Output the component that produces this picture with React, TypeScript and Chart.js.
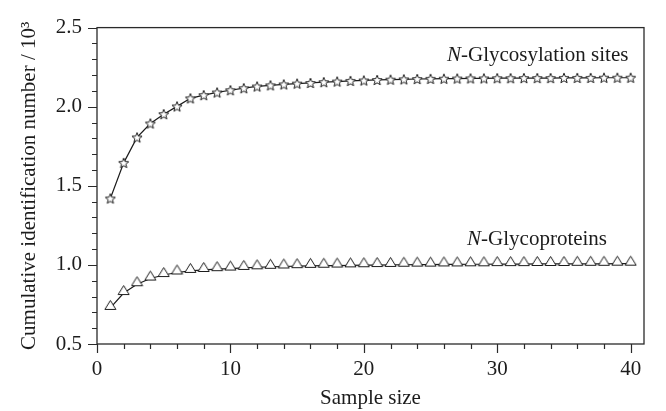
import React, { useEffect, useRef } from "react";
import { Chart, registerables } from "chart.js";

Chart.register(...registerables);

const sampleSizes = [
  1, 2, 3, 4, 5, 6, 7, 8, 9, 10, 11, 12, 13, 14, 15, 16, 17, 18, 19, 20,
  21, 22, 23, 24, 25, 26, 27, 28, 29, 30, 31, 32, 33, 34, 35, 36, 37, 38, 39, 40,
];

const glycositeValues = [
  1.42, 1.645, 1.806, 1.894, 1.953, 2.002, 2.053, 2.073, 2.09, 2.104,
  2.117, 2.128, 2.135, 2.141, 2.146, 2.15, 2.155, 2.159, 2.163, 2.166,
  2.169, 2.171, 2.173, 2.175, 2.176, 2.177, 2.178, 2.179, 2.179, 2.18,
  2.18, 2.181, 2.181, 2.181, 2.182, 2.182, 2.182, 2.183, 2.183, 2.183,
];

const glycoproteinValues = [
  0.728, 0.822, 0.878, 0.914, 0.936, 0.952, 0.962, 0.968, 0.973, 0.977,
  0.981, 0.985, 0.988, 0.99, 0.992, 0.994, 0.995, 0.996, 0.997, 0.998,
  0.999, 1.0, 1.001, 1.002, 1.002, 1.003, 1.003, 1.004, 1.004, 1.005,
  1.005, 1.005, 1.006, 1.006, 1.006, 1.007, 1.007, 1.007, 1.008, 1.008,
];

const xTickValues = [0, 10, 20, 30, 40];
const yTickValues = [0.5, 1.0, 1.5, 2.0, 2.5];
const xMinorTicks = [2, 4, 6, 8, 12, 14, 16, 18, 22, 24, 26, 28, 32, 34, 36, 38];
const yMinorTicks = [
  0.6, 0.7, 0.8, 0.9, 1.1, 1.2, 1.3, 1.4, 1.6, 1.7, 1.8, 1.9, 2.1, 2.2, 2.3, 2.4,
];

const seriesNames = ["Glycosylation sites", "Glycoproteins"];
const xTitle = "Sample size";
const yTitle = "Cumulative identification number / 10³";

const FONT = "'Liberation Serif', 'Times New Roman', serif";
const FS = 21;
const INK = "#1c1c1c";

function makeStar(): HTMLCanvasElement {
  const c = document.createElement("canvas");
  const s = 14;
  c.width = s;
  c.height = s;
  const ctx = c.getContext("2d")!;
  const cx = s / 2;
  const cy = s / 2 + 0.5;
  const ro = 5.3;
  const ri = 2.3;
  ctx.beginPath();
  for (let i = 0; i < 10; i++) {
    const a = -Math.PI / 2 + (i * Math.PI) / 5;
    const r = i % 2 === 0 ? ro : ri;
    const px = cx + r * Math.cos(a);
    const py = cy + r * Math.sin(a);
    if (i === 0) ctx.moveTo(px, py);
    else ctx.lineTo(px, py);
  }
  ctx.closePath();
  ctx.fillStyle = "#ffffff";
  ctx.fill();
  ctx.strokeStyle = INK;
  ctx.lineWidth = 1;
  ctx.stroke();
  return c;
}

function makeTriangle(): HTMLCanvasElement {
  const c = document.createElement("canvas");
  const w = 13;
  const h = 20;
  c.width = w;
  c.height = h;
  const ctx = c.getContext("2d")!;
  ctx.beginPath();
  ctx.moveTo(w / 2, 2.5);
  ctx.lineTo(w - 1, 11.5);
  ctx.lineTo(1, 11.5);
  ctx.closePath();
  ctx.fillStyle = "#ffffff";
  ctx.fill();
  ctx.strokeStyle = INK;
  ctx.lineWidth = 1;
  ctx.stroke();
  return c;
}

const framePlugin = {
  id: "frameTicks",
  afterDraw(chart: any) {
    const { ctx, chartArea: a, scales } = chart;
    const xs = scales.x;
    const ys = scales.y;
    ctx.save();
    ctx.strokeStyle = "#2a2a2a";
    ctx.lineWidth = 1.3;
    ctx.strokeRect(a.left, a.top, a.right - a.left, a.bottom - a.top);
    ctx.lineWidth = 1.2;
    ctx.beginPath();
    for (const v of xTickValues) {
      const px = Math.round(xs.getPixelForValue(v)) + 0.5;
      ctx.moveTo(px, a.bottom);
      ctx.lineTo(px, a.bottom + 9);
    }
    for (const v of xMinorTicks) {
      const px = Math.round(xs.getPixelForValue(v)) + 0.5;
      ctx.moveTo(px, a.bottom);
      ctx.lineTo(px, a.bottom + 5);
    }
    for (const v of yTickValues) {
      const py = Math.round(ys.getPixelForValue(v)) + 0.5;
      ctx.moveTo(a.left, py);
      ctx.lineTo(a.left - 9, py);
    }
    for (const v of yMinorTicks) {
      const py = Math.round(ys.getPixelForValue(v)) + 0.5;
      ctx.moveTo(a.left, py);
      ctx.lineTo(a.left - 5, py);
    }
    ctx.stroke();
    ctx.restore();
  },
  afterDatasetsDraw(chart: any) {
    const { ctx, scales } = chart;
    const xs = scales.x;
    const ys = scales.y;
    const labels = [
      { name: seriesNames[0], x: 39.83, y: 2.325 },
      { name: seriesNames[1], x: 38.23, y: 1.159 },
    ];
    ctx.save();
    ctx.fillStyle = INK;
    ctx.textBaseline = "middle";
    ctx.textAlign = "left";
    for (const l of labels) {
      const right = xs.getPixelForValue(l.x);
      const cy = ys.getPixelForValue(l.y);
      const italic = "italic " + FS + "px " + FONT;
      const normal = FS + "px " + FONT;
      ctx.font = normal;
      const restText = "-" + l.name;
      const wRest = ctx.measureText(restText).width;
      ctx.font = italic;
      const wN = ctx.measureText("N").width;
      const start = right - wRest - wN;
      ctx.fillText("N", start, cy);
      ctx.font = normal;
      ctx.fillText(restText, start + wN, cy);
    }
    ctx.restore();
  },
};

export default function App() {
  const ref = useRef<HTMLCanvasElement | null>(null);

  useEffect(() => {
    if (!ref.current) return;
    const star = makeStar();
    const tri = makeTriangle();
    const chart = new Chart(ref.current, {
      type: "line",
      data: {
        datasets: [
          {
            label: seriesNames[0],
            data: sampleSizes.map((x, i) => ({ x, y: glycositeValues[i] })),
            borderColor: INK,
            borderWidth: 1.2,
            pointStyle: star as any,
            pointRadius: 5,
            fill: false,
            tension: 0,
          },
          {
            label: seriesNames[1],
            data: sampleSizes.map((x, i) => ({ x, y: glycoproteinValues[i] })),
            borderColor: INK,
            borderWidth: 1.2,
            pointStyle: tri as any,
            pointRadius: 5,
            fill: false,
            tension: 0,
          },
        ],
      },
      options: {
        animation: false,
        responsive: false,
        devicePixelRatio: 1,
        layout: { padding: { left: 0, right: 22, top: 24, bottom: 0 } },
        plugins: {
          legend: { display: false },
          tooltip: { enabled: false },
        },
        scales: {
          x: {
            type: "linear",
            min: 0,
            max: 41,
            afterBuildTicks: (s: any) => {
              s.ticks = xTickValues.map((v) => ({ value: v }));
            },
            afterFit: (s: any) => {
              s.height = 67;
            },
            grid: { display: false, drawTicks: false },
            border: { display: false },
            ticks: {
              color: INK,
              font: { family: FONT, size: FS },
              padding: 13,
              maxRotation: 0,
              callback: (v: any) => String(v),
            },
            title: {
              display: true,
              text: xTitle,
              color: INK,
              font: { family: FONT, size: FS },
              padding: { top: 0, bottom: 0 },
            },
          },
          y: {
            type: "linear",
            min: 0.5,
            max: 2.5,
            afterBuildTicks: (s: any) => {
              s.ticks = yTickValues.map((v) => ({ value: v }));
            },
            afterFit: (s: any) => {
              s.width = 97;
            },
            grid: { display: false, drawTicks: false },
            border: { display: false },
            ticks: {
              color: INK,
              font: { family: FONT, size: FS },
              padding: 15,
              callback: (v: any) => Number(v).toFixed(1),
            },
            title: {
              display: true,
              text: yTitle,
              color: INK,
              font: { family: FONT, size: FS },
              padding: { top: 17, bottom: 0 },
            },
          },
        },
      },
      plugins: [framePlugin],
    });
    return () => chart.destroy();
  }, []);

  return (
    <div
      style={{
        position: "fixed",
        left: 0,
        top: 0,
        width: 666,
        height: 411,
        background: "#ffffff",
      }}
    >
      <canvas ref={ref} width={666} height={411} style={{ width: 666, height: 411 }} />
    </div>
  );
}
